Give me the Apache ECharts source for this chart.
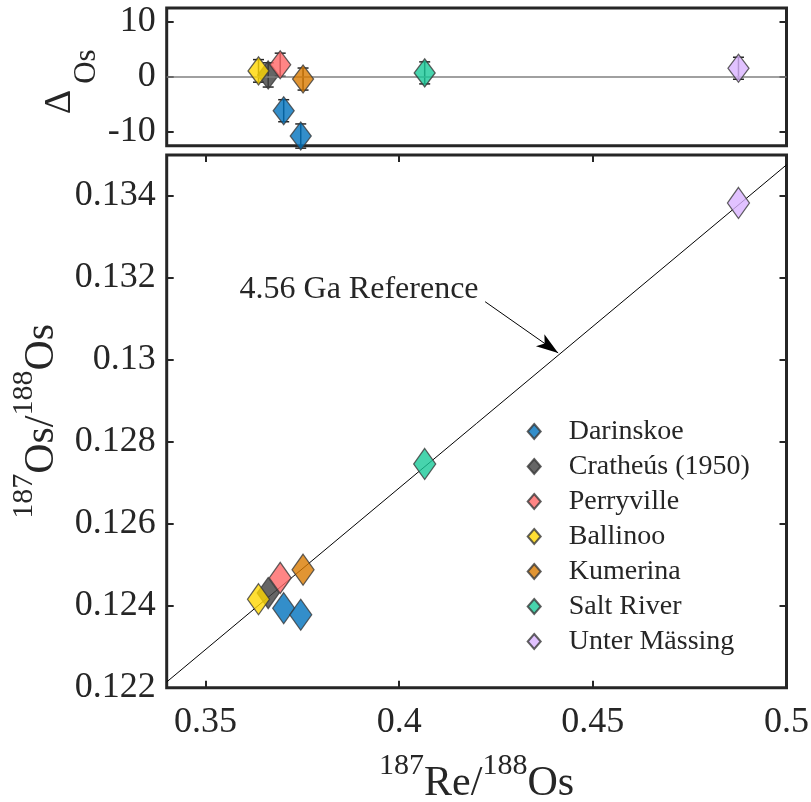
<!DOCTYPE html>
<html><head><meta charset="utf-8">
<script src="https://cdn.jsdelivr.net/npm/echarts@6/dist/echarts.min.js"></script>
<style>html,body{margin:0;padding:0;background:#fff}#c{width:811px;height:802px}</style>
</head><body><div id="c"></div>
<script>
// ---- data ----
const sampleNames = ['Darinskoe','Cratheús (1950)','Perryville','Ballinoo','Kumerina','Salt River','Unter Mässing'];
const pointSample = ['Darinskoe','Darinskoe','Cratheús (1950)','Perryville','Ballinoo','Kumerina','Salt River','Unter Mässing'];
const pointRe = [0.3702,0.3746,0.3662,0.3693,0.3637,0.3752,0.4066,0.4876];
const pointOs = [0.12394,0.12378,0.12431,0.12468,0.12416,0.12488,0.12746,0.13383];
const pointDelta = [-6.15,-10.75,0.35,2.2,1.08,-0.4,0.72,1.56];
const pointDeltaErr = [2.0,2.2,2.2,2.1,2.05,2.0,2.0,2.0];
const refLineRe = [0.34, 0.5];
const refLineOs = [0.12214, 0.13476];
const refLabel = '4.56 Ga Reference';
const refLabelAt = [0.4205, 0.13172];
const refArrowFrom = [0.4222, 0.13142];
const refArrowTo = [0.44106, 0.13017];
const xTicks = [0.35, 0.4, 0.45, 0.5];
const yTicksRatio = [0.122, 0.124, 0.126, 0.128, 0.13, 0.132, 0.134];
const yTicksDelta = [-10, 0, 10];
const deltaZero = 0;
const xTitle = '{s|187}{m|Re/}{s|188}{m|Os}';
const yTitle = '{s|187}{m|Os/}{s|188}{m|Os}';
const deltaTitle = '{d|Δ}{o|Os}';

// ---- styles ----
const sampleColors = ['#0072BD','#404040','#FF6666','#FFD700','#D97B00','#19C999','#D9B3FF'];
const FONT = 'Liberation Serif';
const INK = '#262626';
const GRID_L = 166.7, GRID_R = 24.5, W = 811;

const chart = echarts.init(document.getElementById('c'), null, {renderer: 'canvas'});

const tickStyle = (vals) => ({show: true, inside: true, length: 7, lineStyle: {color: INK, width: 2}, customValues: vals});
const noLabel = {show: false};
const fmt = v => String(parseFloat(Number(v).toFixed(4)));

const series = [];
sampleNames.forEach((name, k) => {
  const idx = pointSample.map((s, i) => s === name ? i : -1).filter(i => i >= 0);
  const color = sampleColors[k];
  const zBase = name === 'Cratheús (1950)' ? 3 : 5;
  const itemStyle = {color: color, borderColor: '#3a3a3a', borderWidth: 1.3};
  series.push({
    type: 'custom', name: name + ' err', xAxisIndex: 0, yAxisIndex: 0, z: 2, silent: true,
    data: idx.map(i => [pointRe[i], pointDelta[i], pointDeltaErr[i]]),
    encode: {x: 0, y: 1},
    renderItem: (params, api) => {
      const x = api.value(0), y = api.value(1), e = api.value(2);
      const t = api.coord([x, y + e]), b = api.coord([x, y - e]);
      const hw = 5.5;
      const st = {stroke: INK, lineWidth: 1.5};
      return {type: 'group', children: [
        {type: 'line', shape: {x1: t[0], y1: t[1], x2: b[0], y2: b[1]}, style: st},
        {type: 'line', shape: {x1: t[0] - hw, y1: t[1], x2: t[0] + hw, y2: t[1]}, style: st},
        {type: 'line', shape: {x1: b[0] - hw, y1: b[1], x2: b[0] + hw, y2: b[1]}, style: st}
      ]};
    },
    markLine: k === 0 ? {
      silent: true, symbol: ['none', 'none'], label: {show: false},
      lineStyle: {color: '#808080', width: 1.5, type: 'solid'},
      data: [{yAxis: deltaZero}]
    } : undefined
  });
  series.push({
    type: 'scatter', name: name, xAxisIndex: 0, yAxisIndex: 0, z: zBase,
    symbol: 'diamond', symbolSize: [21, 28], itemStyle: itemStyle,
    data: idx.map(i => [pointRe[i], pointDelta[i]])
  });
  series.push({
    type: 'scatter', name: name, xAxisIndex: 1, yAxisIndex: 2, z: zBase,
    symbol: 'diamond', symbolSize: [22, 31], itemStyle: itemStyle,
    data: idx.map(i => [pointRe[i], pointOs[i]])
  });
});

series.push({
  type: 'line', name: 'ref', xAxisIndex: 1, yAxisIndex: 2, z: 1, silent: true,
  symbol: 'none', lineStyle: {color: '#000', width: 1},
  data: refLineRe.map((x, i) => [x, refLineOs[i]]),
  markLine: {
    silent: true, label: {show: false}, lineStyle: {color: '#000', width: 1, type: 'solid'},
    data: [[{coord: refArrowFrom, symbol: 'none'}, {coord: refArrowTo, symbol: 'arrow', symbolSize: [11, 22]}]]
  },
  markPoint: {
    silent: true,
    data: [{coord: refLabelAt, symbol: 'circle', symbolSize: 0,
      label: {show: true, formatter: refLabel, position: 'left', distance: 0,
        fontFamily: FONT, fontSize: 32, color: INK}}]
  }
});

const supRich = {
  s: {fontFamily: FONT, fontSize: 30, lineHeight: 30, verticalAlign: 'top', color: INK},
  m: {fontFamily: FONT, fontSize: 42, lineHeight: 54, verticalAlign: 'bottom', color: INK}
};

const option = {
  animation: false,
  backgroundColor: '#fff',
  textStyle: {fontFamily: FONT},
  grid: [
    {left: GRID_L, right: GRID_R, top: 8, height: 137.7, show: true, borderColor: INK, borderWidth: 3, outerBoundsMode: 'none', containLabel: false},
    {left: GRID_L, right: GRID_R, top: 155, height: 532.7, show: true, borderColor: INK, borderWidth: 3, outerBoundsMode: 'none', containLabel: false}
  ],
  graphic: [{
    type: 'text', silent: true,
    x: (GRID_L + W - GRID_R) / 2, y: 751,
    style: {text: xTitle, rich: supRich, align: 'center', verticalAlign: 'top', fill: INK, font: '42px ' + FONT}
  }],
  legend: {
    data: sampleNames, orient: 'vertical', left: 526.7, top: 414, padding: 0,
    itemWidth: 13, itemHeight: 15, itemGap: 0, icon: 'diamond',
    textStyle: {fontFamily: FONT, fontSize: 28, lineHeight: 35, color: INK, padding: [0, 0, 0, 23]},
    selectedMode: false
  },
  xAxis: [
    {type: 'value', gridIndex: 0, min: 0.34, max: 0.5, axisLine: {show: false}, axisTick: {show: false}, axisLabel: noLabel, splitLine: {show: false}},
    {type: 'value', gridIndex: 1, min: 0.34, max: 0.5, position: 'bottom',
      axisLine: {show: false}, axisTick: tickStyle(xTicks), splitLine: {show: false},
      axisLabel: {show: true, customValues: xTicks, margin: 17, fontFamily: FONT, fontSize: 36, color: INK, formatter: fmt, showMinLabel: true, showMaxLabel: true}},
    {type: 'value', gridIndex: 1, min: 0.34, max: 0.5, position: 'top',
      axisLine: {show: false}, axisTick: tickStyle(xTicks), axisLabel: noLabel, splitLine: {show: false}}
  ],
  yAxis: [
    {type: 'value', gridIndex: 0, min: -12.5, max: 12.5, position: 'left',
      axisLine: {show: false}, axisTick: tickStyle(yTicksDelta), splitLine: {show: false},
      axisLabel: {show: true, customValues: yTicksDelta, margin: 11, fontFamily: FONT, fontSize: 36, color: INK, formatter: fmt},
      name: deltaTitle, nameLocation: 'middle', nameRotate: 90, nameGap: 64, nameMoveOverlap: false,
      nameTextStyle: {rich: {
        d: {fontFamily: FONT, fontSize: 38, lineHeight: 38, verticalAlign: 'top', color: INK},
        o: {fontFamily: FONT, fontSize: 31, lineHeight: 62, verticalAlign: 'bottom', color: INK, padding: [0, 10, 0, 6]}
      }}},
    {type: 'value', gridIndex: 0, min: -12.5, max: 12.5, position: 'right',
      axisLine: {show: false}, axisTick: tickStyle(yTicksDelta), axisLabel: noLabel, splitLine: {show: false}},
    {type: 'value', gridIndex: 1, min: 0.122, max: 0.135, position: 'left',
      axisLine: {show: false}, axisTick: tickStyle(yTicksRatio), splitLine: {show: false},
      axisLabel: {show: true, customValues: yTicksRatio, margin: 11, fontFamily: FONT, fontSize: 36, color: INK, formatter: fmt},
      name: yTitle, nameLocation: 'middle', nameRotate: 90, nameGap: 104, nameMoveOverlap: false,
      nameTextStyle: {rich: supRich}},
    {type: 'value', gridIndex: 1, min: 0.122, max: 0.135, position: 'right',
      axisLine: {show: false}, axisTick: tickStyle(yTicksRatio), axisLabel: noLabel, splitLine: {show: false}}
  ],
  series: series
};
chart.setOption(option);
</script></body></html>
